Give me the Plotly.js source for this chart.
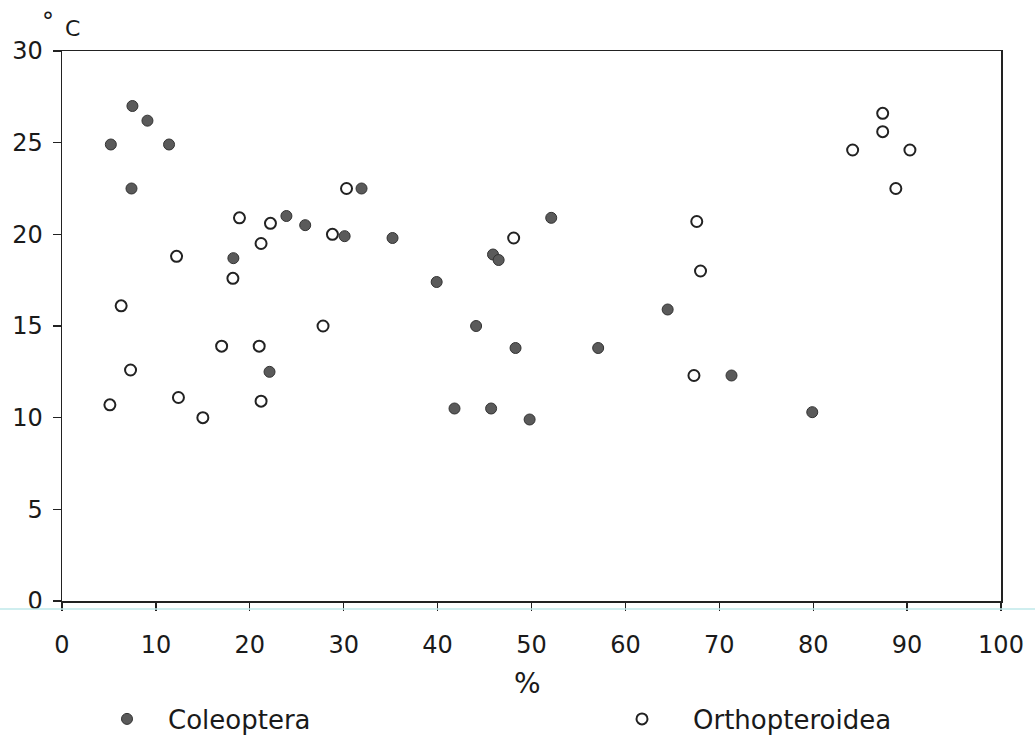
<!DOCTYPE html>
<html>
<head>
<meta charset="utf-8">
<script src="https://cdn.plot.ly/plotly-3.0.1.min.js"></script>
<style>html,body{margin:0;padding:0;background:#fff;}#chart{width:1035px;height:738px;}</style>
</head>
<body>
<div id="chart"></div>
<script>
// Coleoptera (filled circles): % vs °C
var coleopteraX = [7.5, 9.1, 5.2, 11.4, 7.4, 31.9, 23.9, 25.9, 30.1, 35.2, 18.25, 22.1, 52.1, 45.9, 46.5, 39.9, 44.1, 48.3, 57.1, 64.5, 71.3, 41.8, 45.7, 49.8, 79.9];
var coleopteraY = [27.0, 26.2, 24.9, 24.9, 22.5, 22.5, 21.0, 20.5, 19.9, 19.8, 18.7, 12.5, 20.9, 18.9, 18.6, 17.4, 15.0, 13.8, 13.8, 15.9, 12.3, 10.5, 10.5, 9.9, 10.3];
// Orthopteroidea (open circles)
var orthoX = [30.3, 18.9, 22.2, 28.8, 21.2, 12.2, 18.2, 6.3, 27.8, 17.0, 21.0, 7.3, 12.4, 5.1, 21.2, 15.0, 48.1, 67.6, 68.0, 67.3, 87.4, 87.4, 84.2, 90.3, 88.8];
var orthoY = [22.5, 20.9, 20.6, 20.0, 19.5, 18.8, 17.6, 16.1, 15.0, 13.9, 13.9, 12.6, 11.1, 10.7, 10.9, 10.0, 19.8, 20.7, 18.0, 12.3, 26.6, 25.6, 24.6, 24.6, 22.5];
var xTicks = [0, 10, 20, 30, 40, 50, 60, 70, 80, 90, 100];
var yTicks = [0, 5, 10, 15, 20, 25, 30];
var seriesNames = ['Coleoptera', 'Orthopteroidea'];
var xTitle = '%';
var yUnitDeg = '°';
var yUnitC = 'C';

var fam = 'DejaVu Sans, Liberation Sans, sans-serif';
var tickFont = {family: fam, size: 24, color: '#1a1a1a'};

var traces = [
  {x: coleopteraX, y: coleopteraY, type: 'scatter', mode: 'markers', name: seriesNames[0], legend: 'legend',
   marker: {symbol: 'circle', size: 11, color: '#5a5a5a', line: {color: '#333', width: 1}}},
  {x: orthoX, y: orthoY, type: 'scatter', mode: 'markers', name: seriesNames[1], legend: 'legend2',
   marker: {symbol: 'circle-open', size: 11, color: '#222', line: {color: '#222', width: 2}}}
];

var legendBase = {orientation: 'h', xanchor: 'left', yanchor: 'middle', y: (601 - 719) / 550,
                  font: {family: fam, size: 26, color: '#1a1a1a'}, bgcolor: 'rgba(0,0,0,0)'};

var layout = {
  width: 1035, height: 738,
  margin: {l: 62, r: 34, t: 51, b: 137, autoexpand: false},
  paper_bgcolor: '#fff', plot_bgcolor: '#fff',
  font: tickFont,
  showlegend: true,
  legend: Object.assign({}, legendBase, {x: (86 - 62) / 939, itemwidth: 72}),
  legend2: Object.assign({}, legendBase, {x: (591 - 62) / 939, itemwidth: 92}),
  xaxis: {range: [0, 100], tickvals: xTicks, ticktext: xTicks.map(String),
          showgrid: false, zeroline: false, showline: true, linecolor: '#222', linewidth: 1.5,
          mirror: true, ticks: 'outside', ticklen: 8, tickwidth: 1.2, tickcolor: '#222',
          ticklabelstandoff: 14, tickfont: tickFont},
  yaxis: {range: [0, 30], tickvals: yTicks, ticktext: yTicks.map(String),
          showgrid: false, zeroline: false, showline: true, linecolor: '#222', linewidth: 1.5,
          mirror: true, ticks: 'outside', ticklen: 8, tickwidth: 1.2, tickcolor: '#222',
          ticklabelstandoff: 5, tickfont: tickFont},
  annotations: [
    {text: xTitle, xref: 'paper', yref: 'paper', x: (527 - 62) / 939, y: (601 - 683) / 550,
     showarrow: false, font: {family: fam, size: 28, color: '#1a1a1a'}, xanchor: 'center', yanchor: 'middle'},
    {text: yUnitDeg, xref: 'paper', yref: 'paper', x: (48 - 62) / 939, y: (601 - 22) / 550,
     showarrow: false, font: {family: fam, size: 24, color: '#1a1a1a'}, xanchor: 'center', yanchor: 'middle'},
    {text: yUnitC, xref: 'paper', yref: 'paper', x: (72 - 62) / 939, y: (601 - 28) / 550,
     showarrow: false, font: {family: fam, size: 22, color: '#1a1a1a'}, xanchor: 'center', yanchor: 'middle'}
  ],
  shapes: [
    {type: 'line', xref: 'paper', yref: 'paper', x0: -0.07, x1: 1.04, y0: (601 - 609) / 550, y1: (601 - 609) / 550,
     line: {color: '#bfe8ea', width: 1.5}}
  ]
};

Plotly.newPlot('chart', traces, layout, {displayModeBar: false, staticPlot: true});
</script>
</body>
</html>
